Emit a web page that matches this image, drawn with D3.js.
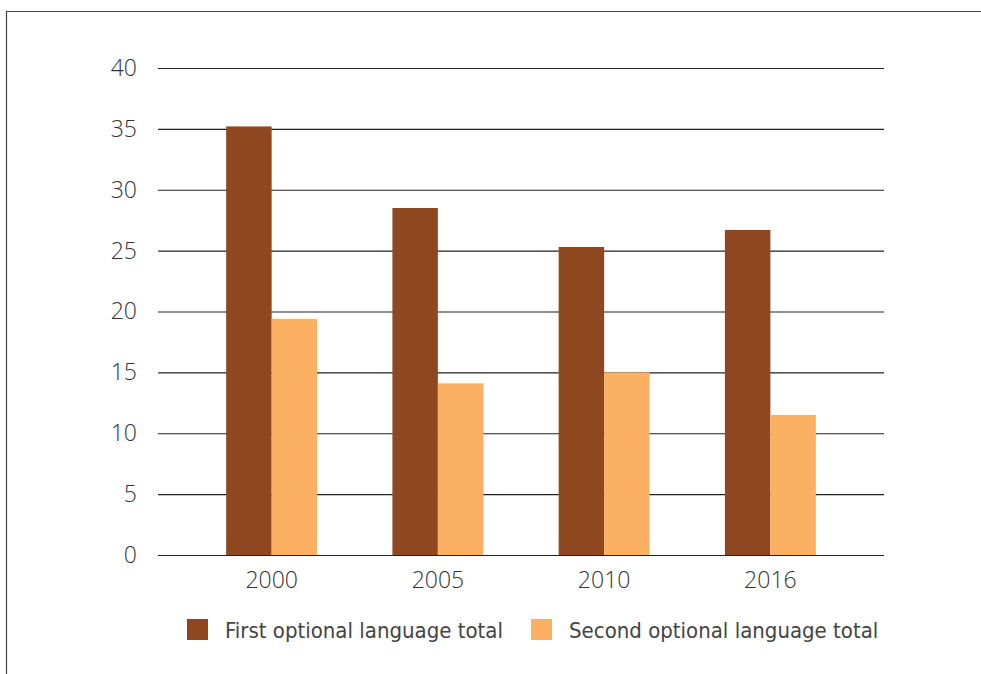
<!DOCTYPE html>
<html><head><meta charset="utf-8">
<script src="https://cdn.jsdelivr.net/npm/d3@7"></script>
<style>body{margin:0;background:#fff}svg{display:block}</style>
</head><body>
<svg id="c" width="981" height="674"></svg>
<script>
const categories = ["2000", "2005", "2010", "2016"];
const seriesNames = ["First optional language total", "Second optional language total"];
const firstValues = [35.2, 28.5, 25.3, 26.7];
const secondValues = [19.4, 14.1, 15.0, 11.5];
const yTicks = [0, 5, 10, 15, 20, 25, 30, 35, 40];
const colors = ["#8F471F", "#FCB064"];

(function () {
const svg = d3.select("#c");
const font = "'Open Sans', 'DejaVu Sans', sans-serif";

svg.append("path").attr("d", "M6.5,674 V11.5 H981").attr("fill", "none").attr("stroke", "#444").attr("stroke-width", 1.2);

const pL = 158, pR = 884, pT = 68, pB = 555;
const y = d3.scaleLinear().domain([0, 40]).range([pB, pT]);
const x = d3.scaleBand().domain(categories).range([pL, pR]).paddingInner(0.453).paddingOuter(0.41);
const x1 = d3.scaleBand().domain([0, 1]).range([0, x.bandwidth()]);

const yAxis = d3.axisLeft(y).tickValues(yTicks).tickSize(-(pR - pL)).tickPadding(21);
const gy = svg.append("g").attr("transform", `translate(${pL},0)`).call(yAxis);
gy.select(".domain").remove();
gy.selectAll(".tick line").attr("stroke", "#222").attr("stroke-width", 1.1);
gy.selectAll(".tick text").attr("font-family", font).attr("font-weight", 300).attr("font-size", 23).attr("fill", "#333");

const data = categories.map((c, i) => ({c, vals: [firstValues[i], secondValues[i]]}));
const g = svg.append("g").selectAll("g").data(data).join("g").attr("transform", d => `translate(${x(d.c)},0)`);
g.selectAll("rect").data(d => d.vals.map((v, k) => ({v, k}))).join("rect")
  .attr("x", d => x1(d.k)).attr("width", x1.bandwidth())
  .attr("y", d => y(d.v)).attr("height", d => y(0) - y(d.v))
  .attr("fill", d => colors[d.k]);

const xAxis = d3.axisBottom(x).tickSize(0).tickPadding(17);
const gx = svg.append("g").attr("transform", `translate(0,${pB})`).call(xAxis);
gx.select(".domain").remove();
gx.selectAll(".tick text").attr("font-family", font).attr("font-weight", 300).attr("font-size", 23).attr("fill", "#333");

const legX = [187, 531];
const leg = svg.append("g").selectAll("g").data(seriesNames).join("g").attr("transform", (d, i) => `translate(${legX[i]},619)`);
leg.append("rect").attr("width", 21).attr("height", 21).attr("fill", (d, i) => colors[i]);
leg.append("text").attr("x", 38).attr("y", 19).text(d => d)
  .attr("font-family", "'DejaVu Sans Condensed', 'Liberation Sans Narrow', sans-serif").attr("font-weight", 300)
  .attr("font-size", 22).attr("fill", "#444");
})();
</script>
</body></html>
